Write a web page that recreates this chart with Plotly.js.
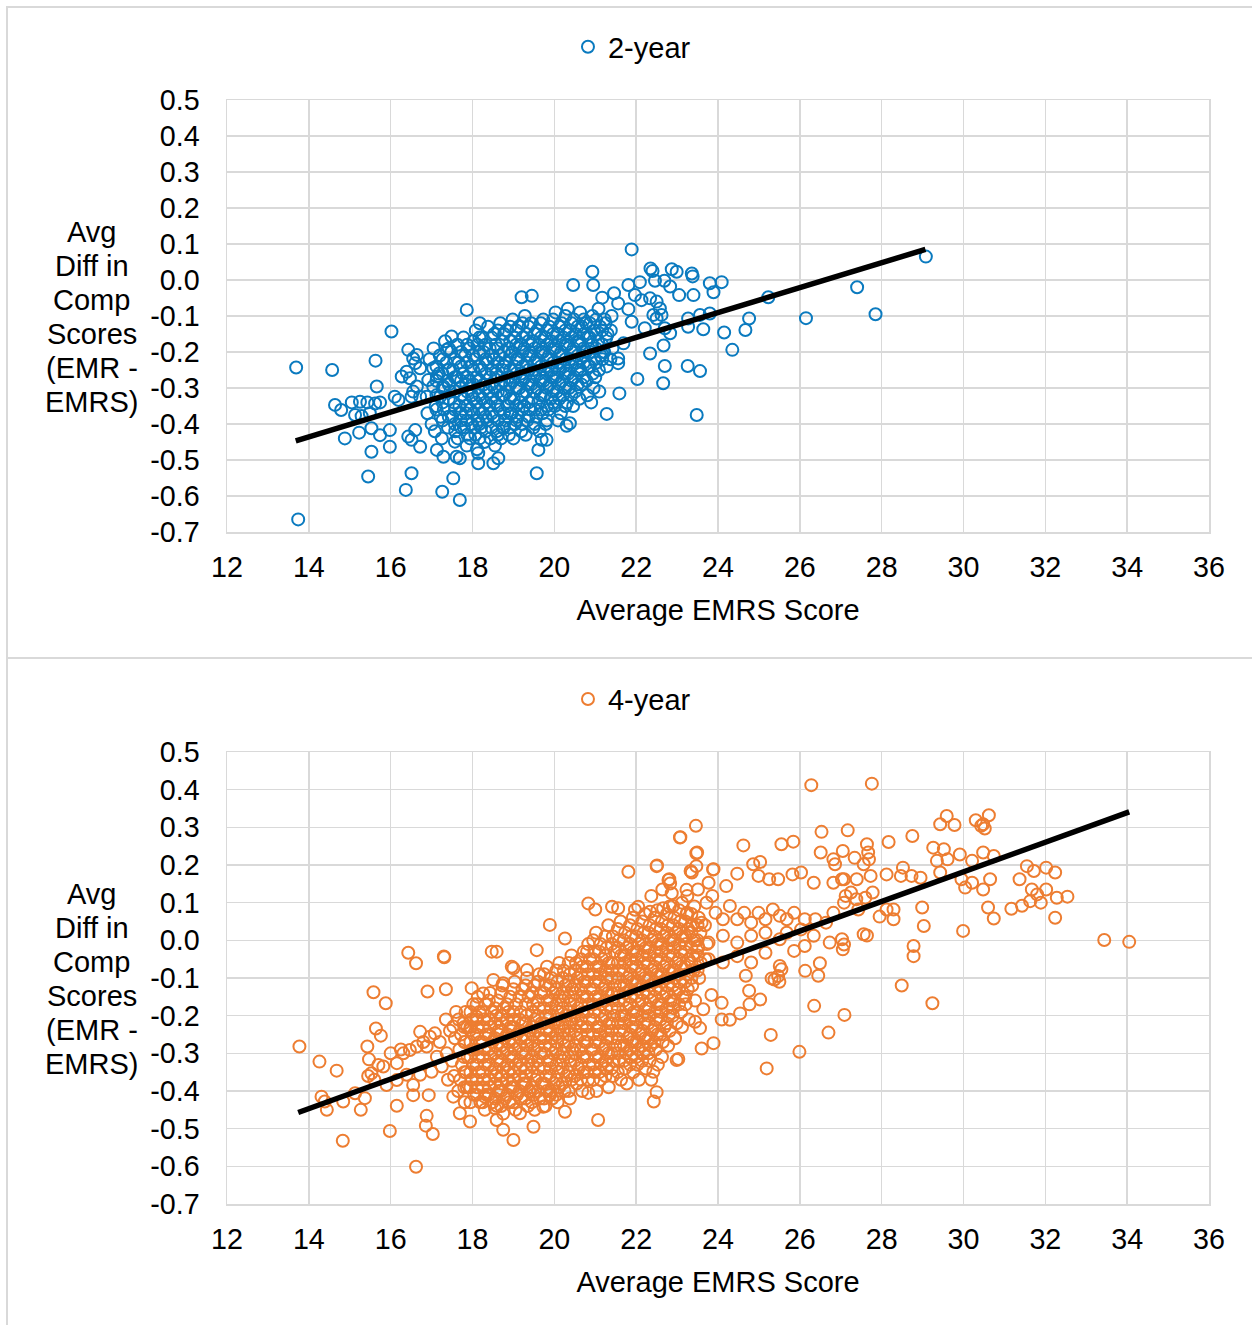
<!DOCTYPE html>
<html><head><meta charset="utf-8">
<script src="https://cdn.plot.ly/plotly-3.0.1.min.js"></script>
<style>
html,body{margin:0;padding:0;background:#fff;width:1252px;height:1325px;overflow:hidden;position:relative}
.frame{position:absolute;border:2px solid #d9d9d9;box-sizing:border-box}
.plot{position:absolute;left:0;width:1252px}
</style></head><body>
<div class="frame" style="left:6px;top:6px;width:1270px;height:653px"></div>
<div class="frame" style="left:6px;top:657px;width:1270px;height:690px"></div>
<div id="p1" class="plot" style="top:0;height:657px"></div>
<div id="p2" class="plot" style="top:657px;height:668px"></div>
<script>
// ---------- DATA ----------
const seriesNames = ["2-year", "4-year"];
const xTickVals = [12,14,16,18,20,22,24,26,28,30,32,34,36];
const yTickVals = [0.5,0.4,0.3,0.2,0.1,0.0,-0.1,-0.2,-0.3,-0.4,-0.5,-0.6,-0.7];
const yTickText = ["0.5","0.4","0.3","0.2","0.1","0.0","-0.1","-0.2","-0.3","-0.4","-0.5","-0.6","-0.7"];
const xTitle = "Average EMRS Score";
const yTitleLines = ["Avg", "Diff in", "Comp", "Scores", "(EMR -", "EMRS)"];

// 2-year: [Average EMRS score, avg diff]
const twoYearOuter = [
[13.69,-0.243],[13.74,-0.665],[14.57,-0.25],[14.64,-0.347],[14.79,-0.361],[15.05,-0.34],[15.25,-0.338],[15.43,-0.34],[15.62,-0.343],[15.74,-0.34],
[15.13,-0.375],[15.29,-0.378],[15.49,-0.37],[14.88,-0.44],[15.23,-0.424],[15.53,-0.412],[15.74,-0.431],[15.98,-0.417],[15.53,-0.477],[15.98,-0.463],
[15.45,-0.546],[15.63,-0.224],[15.66,-0.296],[16.02,-0.143],[16.1,-0.324],[16.19,-0.333],[16.43,-0.194],[16.55,-0.218],[16.6,-0.231],[16.64,-0.208],
[16.39,-0.255],[16.27,-0.268],[16.47,-0.273],[16.72,-0.245],[16.64,-0.296],[16.55,-0.31],[16.51,-0.324],[16.72,-0.324],[16.51,-0.444],[16.43,-0.435],
[16.72,-0.463],[16.6,-0.417],[16.37,-0.583],[16.51,-0.537],[17.04,-0.245],[17.13,-0.268],[16.92,-0.278],[16.88,-0.324],[17.04,-0.296],[17.21,-0.324],
[17.29,-0.296],[17.37,-0.194],[17.49,-0.157],[17.86,-0.083],[18.18,-0.12],[19.2,-0.048],[19.45,-0.044],[20.46,-0.014],[17.13,-0.472],[17.29,-0.491],
[17.57,-0.449],[17.61,-0.491],[17.69,-0.495],[18.14,-0.481],[18.14,-0.509],[18.51,-0.509],[18.63,-0.495],[17.53,-0.551],[17.26,-0.588],[17.69,-0.611],
[19.57,-0.537],[19.69,-0.444],[19.61,-0.472],[19.81,-0.444],[20.38,-0.398],[20.3,-0.405],
[21.89,0.085],[20.93,0.023],[20.95,-0.014],[22.35,0.032],[22.4,0.025],[22.87,0.03],[22.99,0.023],[23.36,0.018],[23.38,0.01],[23.8,-0.009],
[24.09,-0.006],[23.89,-0.034],[21.81,-0.014],[22.09,-0.006],[22.46,-0.002],[22.69,-0.002],[22.83,-0.018],[23.05,-0.042],[23.4,-0.042],[21.17,-0.049],
[21.46,-0.037],[21.56,-0.065],[21.81,-0.081],[21.97,-0.042],[22.13,-0.056],[22.34,-0.051],[22.5,-0.06],[22.58,-0.079],[22.42,-0.097],[22.5,-0.107],
[22.62,-0.097],[22.7,-0.134],[22.83,-0.148],[21.89,-0.116],[22.21,-0.134],[23.27,-0.107],[23.27,-0.13],[23.56,-0.097],[23.8,-0.093],[23.64,-0.137],
[24.15,-0.146],[24.35,-0.194],[24.67,-0.139],[24.76,-0.107],[25.23,-0.048],[26.15,-0.106],[27.4,-0.02],[27.85,-0.095],[29.08,0.065],[22.34,-0.204],
[22.67,-0.182],[22.7,-0.239],[22.66,-0.287],[23.26,-0.239],[23.56,-0.253],[22.03,-0.275],[21.59,-0.315],[21.28,-0.372],[23.48,-0.375],[21.56,-0.218],
[21.56,-0.231],[21.69,-0.176],[21.3,-0.15],[21.4,-0.1],[21.2,-0.2],[21.0,-0.27],[21.1,-0.31],[21.25,-0.12],[20.9,-0.34]
];
const twoYearCore = [
[16.95,-0.22],[16.9,-0.37],[17.0,-0.40],[17.05,-0.19],[17.1,-0.35],[17.08,-0.42],[17.2,-0.21],[17.18,-0.26],[17.22,-0.38],[17.25,-0.44],
[17.33,-0.17],[17.36,-0.23],[17.3,-0.36],[17.4,-0.41],[17.38,-0.28],[17.48,-0.20],[17.52,-0.25],[17.46,-0.31],[17.55,-0.34],[17.5,-0.38],
[17.58,-0.42],[17.63,-0.18],[17.66,-0.23],[17.61,-0.27],[17.7,-0.30],[17.68,-0.35],[17.72,-0.39],[17.64,-0.44],[17.78,-0.16],[17.82,-0.21],
[17.77,-0.26],[17.85,-0.29],[17.8,-0.33],[17.84,-0.37],[17.79,-0.41],[17.86,-0.46],[17.93,-0.19],[17.97,-0.24],[17.92,-0.28],[17.99,-0.32],
[17.95,-0.36],[17.98,-0.40],[17.94,-0.44],[18.08,-0.14],[18.12,-0.18],[18.06,-0.22],[18.1,-0.27],[18.14,-0.30],[18.09,-0.34],[18.13,-0.39],
[18.07,-0.43],[18.11,-0.47],[18.23,-0.16],[18.27,-0.2],[18.22,-0.25],[18.28,-0.29],[18.24,-0.33],[18.26,-0.37],[18.21,-0.41],[18.29,-0.45],
[18.38,-0.13],[18.42,-0.19],[18.37,-0.23],[18.43,-0.27],[18.39,-0.31],[18.41,-0.35],[18.36,-0.39],[18.44,-0.44],[18.53,-0.15],[18.57,-0.18],
[18.52,-0.22],[18.58,-0.26],[18.54,-0.3],[18.56,-0.34],[18.51,-0.38],[18.59,-0.42],[18.55,-0.46],[18.68,-0.12],[18.72,-0.17],[18.67,-0.21],
[18.73,-0.25],[18.69,-0.29],[18.71,-0.32],[18.66,-0.36],[18.74,-0.41],[18.7,-0.44],[18.83,-0.14],[18.87,-0.19],[18.82,-0.23],[18.88,-0.27],
[18.84,-0.31],[18.86,-0.35],[18.81,-0.39],[18.89,-0.43],[18.98,-0.11],[19.02,-0.16],[18.97,-0.2],[19.03,-0.24],[18.99,-0.28],[19.01,-0.33],
[18.96,-0.37],[19.04,-0.4],[19.0,-0.44],[19.13,-0.13],[19.17,-0.18],[19.12,-0.22],[19.18,-0.26],[19.14,-0.3],[19.16,-0.34],[19.11,-0.38],
[19.19,-0.42],[19.28,-0.1],[19.32,-0.15],[19.27,-0.19],[19.33,-0.23],[19.29,-0.27],[19.31,-0.31],[19.26,-0.35],[19.34,-0.39],[19.3,-0.43],
[19.43,-0.12],[19.47,-0.17],[19.42,-0.21],[19.48,-0.25],[19.44,-0.29],[19.46,-0.33],[19.41,-0.36],[19.49,-0.41],[19.58,-0.14],[19.62,-0.18],
[19.57,-0.22],[19.63,-0.26],[19.59,-0.3],[19.61,-0.34],[19.56,-0.38],[19.64,-0.42],[19.73,-0.11],[19.77,-0.16],[19.72,-0.2],[19.78,-0.24],
[19.74,-0.28],[19.76,-0.32],[19.71,-0.37],[19.79,-0.4],[19.88,-0.13],[19.92,-0.17],[19.87,-0.21],[19.93,-0.25],[19.89,-0.29],[19.91,-0.33],
[19.86,-0.36],[20.03,-0.09],[20.07,-0.15],[20.02,-0.19],[20.08,-0.23],[20.04,-0.27],[20.06,-0.31],[20.01,-0.35],[20.09,-0.39],[20.18,-0.12],
[20.22,-0.16],[20.17,-0.2],[20.23,-0.24],[20.19,-0.28],[20.21,-0.32],[20.16,-0.37],[20.33,-0.08],[20.37,-0.14],[20.32,-0.18],[20.38,-0.22],
[20.34,-0.26],[20.36,-0.3],[20.31,-0.34],[20.48,-0.11],[20.52,-0.15],[20.47,-0.19],[20.53,-0.23],[20.49,-0.27],[20.51,-0.31],[20.46,-0.35],
[20.63,-0.09],[20.67,-0.13],[20.62,-0.17],[20.68,-0.21],[20.64,-0.25],[20.66,-0.29],[20.61,-0.33],[20.78,-0.12],[20.82,-0.16],[20.77,-0.2],
[20.83,-0.24],[20.79,-0.28],[20.81,-0.32],[20.93,-0.1],[20.97,-0.14],[20.92,-0.18],[20.98,-0.22],[20.94,-0.26],[20.96,-0.3],[21.08,-0.08],
[21.12,-0.13],[21.07,-0.17],[21.13,-0.21],[21.09,-0.25],[21.23,-0.11],[21.27,-0.16],[21.22,-0.2],[21.28,-0.24],[21.38,-0.14],[21.42,-0.19],
[21.37,-0.22]
];
// extra dense-core columns: [x, y1, y2, ...]
const twoYearCoreCols = [
[17.12,-0.24,-0.28,-0.32,-0.36],[17.27,-0.22,-0.26,-0.3,-0.34,-0.39],[17.42,-0.19,-0.25,-0.29,-0.33,-0.38],
[17.57,-0.22,-0.27,-0.31,-0.36,-0.4],[17.72,-0.2,-0.24,-0.28,-0.32,-0.37,-0.41],[17.87,-0.18,-0.23,-0.27,-0.31,-0.35,-0.39,-0.43],
[18.02,-0.17,-0.21,-0.25,-0.29,-0.33,-0.37,-0.41],[18.17,-0.16,-0.2,-0.24,-0.28,-0.32,-0.36,-0.4,-0.44],[18.32,-0.18,-0.22,-0.26,-0.3,-0.34,-0.38,-0.42],
[18.47,-0.16,-0.21,-0.25,-0.29,-0.33,-0.37,-0.41],[18.62,-0.14,-0.19,-0.23,-0.27,-0.31,-0.35,-0.39,-0.43],[18.77,-0.15,-0.2,-0.24,-0.28,-0.32,-0.37,-0.41],
[18.92,-0.13,-0.17,-0.21,-0.25,-0.29,-0.33,-0.37,-0.41],[19.07,-0.14,-0.18,-0.22,-0.26,-0.3,-0.35,-0.39],[19.22,-0.12,-0.16,-0.2,-0.24,-0.28,-0.32,-0.36,-0.4],
[19.37,-0.13,-0.17,-0.21,-0.25,-0.29,-0.34,-0.38],[19.52,-0.15,-0.19,-0.23,-0.27,-0.31,-0.36,-0.4],[19.67,-0.12,-0.16,-0.2,-0.24,-0.28,-0.32,-0.36],
[19.82,-0.14,-0.18,-0.22,-0.26,-0.3,-0.35,-0.39],[19.97,-0.11,-0.15,-0.19,-0.23,-0.27,-0.31,-0.34],[20.12,-0.13,-0.17,-0.21,-0.25,-0.29,-0.33],
[20.27,-0.1,-0.14,-0.18,-0.22,-0.26,-0.3,-0.35],[20.42,-0.12,-0.16,-0.2,-0.24,-0.28,-0.32],[20.57,-0.13,-0.17,-0.21,-0.25,-0.29],
[20.72,-0.11,-0.15,-0.19,-0.23,-0.27],[20.87,-0.12,-0.16,-0.2,-0.24],[21.02,-0.11,-0.15,-0.19,-0.23],[21.17,-0.14,-0.18,-0.22]
];
const twoYearTrendX = [13.68, 29.07];
const twoYearTrendY = [-0.447, 0.085];

// 4-year
const fourYearOuter = [
[13.77,-0.282],[14.26,-0.322],[14.68,-0.346],[14.31,-0.415],[14.39,-0.428],[14.44,-0.45],[14.84,-0.428],[14.83,-0.532],[15.27,-0.45],[15.13,-0.406],
[15.37,-0.419],[15.43,-0.282],[15.47,-0.316],[15.64,-0.234],[15.76,-0.253],[15.58,-0.138],[15.88,-0.167],[16.43,-0.033],[16.62,-0.061],[17.31,-0.045],
[16.9,-0.136],[17.35,-0.13],[15.98,-0.506],[16.15,-0.439],[16.62,-0.601],[16.88,-0.466],[16.86,-0.492],[17.03,-0.514],[16.55,-0.411],[16.93,-0.411],
[15.53,-0.353],[15.7,-0.331],[15.82,-0.335],[16.15,-0.326],[16.31,-0.3],[16.47,-0.291],[16.64,-0.282],[16.72,-0.243],[16.96,-0.256],[17.08,-0.247],
[16.88,-0.282],[17.13,-0.309],[17.25,-0.335],[17.37,-0.3],[17.0,-0.349],[16.72,-0.357],[16.39,-0.357],[16.15,-0.371],[15.9,-0.384],[16.55,-0.384],
[15.6,-0.37],[15.45,-0.36],[16.0,-0.3],[16.25,-0.29],[16.8,-0.27],[17.2,-0.27],
[17.53,-0.229],[17.78,-0.22],[17.57,-0.26],[17.94,-0.238],[18.1,-0.203],[18.26,-0.141],[18.51,-0.105],[18.47,-0.03],[18.59,-0.03],[17.98,-0.127],
[17.53,-0.415],[17.69,-0.459],[17.94,-0.481],[18.3,-0.415],[18.55,-0.446],[18.59,-0.477],[18.75,-0.503],[19.0,-0.53],[19.16,-0.459],[19.49,-0.495],
[19.4,-0.402],[19.73,-0.442],[19.89,-0.411],[20.26,-0.455],[21.07,-0.477],[20.83,-0.405],[19.57,-0.026],[19.89,0.041],[20.26,0.005],[19.0,-0.074],
[19.33,-0.079],[18.75,-0.114],[18.96,-0.07],[17.3,-0.043],
[23.08,0.274],[23.47,0.231],[22.5,0.197],[21.81,0.182],[23.89,0.189],[23.36,0.18],[23.47,0.197],[22.79,0.16],[22.83,0.151],[22.87,0.125],
[23.23,0.134],[20.83,0.098],[21.0,0.082],[21.41,0.089],[21.56,0.085],[21.97,0.081],[22.05,0.089],[22.34,0.076],[22.66,0.085],[23.46,0.304],
[23.07,0.273],[23.49,0.233],[23.33,0.184],[23.88,0.188],[22.51,0.199],[24.62,0.252],[25.55,0.255],[25.84,0.262],[26.28,0.412],[27.76,0.416],
[26.53,0.288],[27.17,0.292],[28.17,0.261],[28.75,0.277],[26.51,0.233],[26.82,0.215],[27.05,0.237],[27.34,0.219],[27.64,0.255],[27.67,0.233],
[27.69,0.215],[27.56,0.202],[26.86,0.202],[27.08,0.162],[27.39,0.162],[27.73,0.171],[28.12,0.175],[28.52,0.193],[28.47,0.171],[28.73,0.171],
[28.95,0.166],[29.26,0.246],[29.52,0.242],[29.35,0.211],[29.61,0.215],[29.91,0.228],[30.21,0.211],[30.48,0.233],[30.74,0.224],[29.43,0.308],
[29.59,0.33],[29.78,0.306],[30.3,0.319],[30.43,0.304],[30.52,0.297],[30.62,0.332],[30.48,0.308],[29.43,0.18],[29.95,0.162],[30.21,0.153],
[30.48,0.135],[30.65,0.162],[30.04,0.14],[31.55,0.197],[31.72,0.184],[32.02,0.193],[32.24,0.18],[31.37,0.162],[31.67,0.135],[31.8,0.122],
[32.02,0.135],[31.63,0.104],[31.89,0.1],[32.28,0.113],[32.54,0.116],[31.17,0.084],[31.43,0.092],[30.6,0.087],[30.74,0.058],[32.24,0.06],
[28.12,0.082],[28.29,0.082],[28.29,0.056],[28.99,0.087],[29.03,0.038],[29.99,0.025],[27.95,0.063],[27.56,0.016],[27.64,0.013],[27.03,0.003],
[27.08,-0.011],[27.05,-0.024],[28.78,-0.015],[28.78,-0.042],[33.44,0.001],[34.05,-0.004],
[28.49,-0.12],[29.24,-0.167],[26.35,-0.174],[27.09,-0.198],[26.7,-0.245],[25.99,-0.296],[25.29,-0.251],[25.19,-0.34],[26.13,-0.081],[26.45,-0.094],
[26.49,-0.061],[24.68,-0.094],[24.76,-0.134],[24.77,-0.17],[25.03,-0.157],[24.54,-0.194],[24.29,-0.211],[24.09,-0.21],[24.09,-0.166],[23.84,-0.145],
[23.64,-0.183],[23.44,-0.216],[23.56,-0.233],[23.89,-0.273],[23.6,-0.287],[23.03,-0.315],[22.5,-0.403],[22.43,-0.428],[22.42,-0.349],[25.31,-0.101],
[25.5,-0.11],[25.55,-0.077],[25.86,-0.028],[25.51,-0.068],[25.38,-0.104],[25.47,-0.095],[22.99,-0.318]
];
const fourYearMid = [
[24.47,0.177],[24.86,0.202],[25.03,0.208],[24.99,0.171],[25.25,0.162],[25.47,0.162],[25.82,0.175],[26.03,0.18],[26.34,0.153],[26.82,0.153],
[27.03,0.162],[27.25,0.127],[27.12,0.118],[27.38,0.109],[27.6,0.113],[27.78,0.127],[27.43,0.082],[27.08,0.1],[26.82,0.073],[26.64,0.047],
[26.38,0.056],[26.12,0.056],[25.86,0.073],[25.68,0.056],[25.51,0.065],[25.34,0.082],[25.16,0.056],[24.99,0.073],[24.81,0.047],[24.64,0.073],
[24.47,0.056],[24.29,0.091],[24.12,0.056],[23.94,0.073],[23.86,0.118],[24.2,0.144],[23.77,0.153],[23.51,0.135],[23.25,0.118],[22.81,0.162],
[22.64,0.135],[22.37,0.118],[22.9,0.091],[23.25,0.073],[23.6,0.047],[25.68,0.02],[26.03,0.029],[26.34,0.012],[26.73,-0.006],[26.12,-0.015],
[25.51,0.003],[25.16,0.02],[24.81,0.012],[24.47,-0.006],[24.12,0.012],[23.77,-0.006],[23.51,-0.015],[24.47,-0.042],[24.81,-0.059],[24.12,-0.059],
[23.77,-0.05],[25.16,-0.033],[17.45,-0.24],[17.5,-0.32],[17.4,-0.37],[17.55,-0.36],[17.35,-0.21],[17.6,-0.19]
];
const fourYearCore = [
[17.66,-0.21],[17.72,-0.25],[17.68,-0.29],[17.74,-0.33],[17.7,-0.37],[17.65,-0.4],
[17.83,-0.19],[17.87,-0.23],[17.82,-0.27],[17.88,-0.31],[17.84,-0.35],[17.86,-0.39],[17.81,-0.43],
[18.02,-0.17],[17.98,-0.21],[18.03,-0.25],[17.99,-0.29],[18.01,-0.33],[17.97,-0.37],[18.04,-0.41],
[18.13,-0.15],[18.17,-0.19],[18.12,-0.23],[18.18,-0.27],[18.14,-0.31],[18.16,-0.35],[18.11,-0.39],[18.19,-0.43],
[18.32,-0.17],[18.28,-0.21],[18.33,-0.25],[18.29,-0.29],[18.31,-0.33],[18.27,-0.37],[18.34,-0.41],[18.3,-0.45],
[18.43,-0.14],[18.47,-0.19],[18.42,-0.23],[18.48,-0.27],[18.44,-0.31],[18.46,-0.35],[18.41,-0.39],[18.49,-0.43],
[18.62,-0.16],[18.58,-0.2],[18.63,-0.24],[18.59,-0.28],[18.61,-0.32],[18.57,-0.36],[18.64,-0.4],[18.6,-0.44],
[18.73,-0.12],[18.77,-0.18],[18.72,-0.22],[18.78,-0.26],[18.74,-0.3],[18.76,-0.34],[18.71,-0.38],[18.79,-0.42],[18.75,-0.46],
[18.92,-0.15],[18.88,-0.19],[18.93,-0.23],[18.89,-0.27],[18.91,-0.31],[18.87,-0.35],[18.94,-0.39],[18.9,-0.43],
[19.03,-0.11],[19.07,-0.17],[19.02,-0.21],[19.08,-0.25],[19.04,-0.29],[19.06,-0.33],[19.01,-0.37],[19.09,-0.41],[19.05,-0.45],
[19.22,-0.13],[19.18,-0.19],[19.23,-0.22],[19.19,-0.26],[19.21,-0.3],[19.17,-0.34],[19.24,-0.38],[19.2,-0.42],
[19.33,-0.1],[19.37,-0.15],[19.32,-0.2],[19.38,-0.24],[19.34,-0.28],[19.36,-0.32],[19.31,-0.36],[19.39,-0.4],[19.35,-0.44],
[19.52,-0.12],[19.48,-0.17],[19.53,-0.21],[19.49,-0.25],[19.51,-0.29],[19.47,-0.33],[19.54,-0.37],[19.5,-0.41],[19.52,-0.45],
[19.63,-0.09],[19.67,-0.14],[19.62,-0.18],[19.68,-0.22],[19.64,-0.26],[19.66,-0.3],[19.61,-0.34],[19.69,-0.38],[19.65,-0.42],
[19.82,-0.07],[19.78,-0.12],[19.83,-0.16],[19.79,-0.2],[19.81,-0.24],[19.77,-0.28],[19.84,-0.32],[19.8,-0.36],[19.82,-0.4],[19.78,-0.44],
[19.93,-0.1],[19.97,-0.14],[19.92,-0.18],[19.98,-0.22],[19.94,-0.26],[19.96,-0.3],[19.91,-0.34],[19.99,-0.38],[19.95,-0.42],
[20.12,-0.06],[20.08,-0.11],[20.13,-0.15],[20.09,-0.19],[20.11,-0.23],[20.07,-0.27],[20.14,-0.31],[20.1,-0.35],[20.12,-0.39],[20.08,-0.43],
[20.23,-0.08],[20.27,-0.12],[20.22,-0.16],[20.28,-0.2],[20.24,-0.24],[20.26,-0.28],[20.21,-0.32],[20.29,-0.36],[20.25,-0.4],
[20.42,-0.04],[20.38,-0.09],[20.43,-0.13],[20.39,-0.17],[20.41,-0.21],[20.37,-0.25],[20.44,-0.29],[20.4,-0.33],[20.42,-0.37],[20.38,-0.42],
[20.53,-0.06],[20.57,-0.1],[20.52,-0.14],[20.58,-0.18],[20.54,-0.22],[20.56,-0.26],[20.51,-0.3],[20.59,-0.34],[20.55,-0.38],
[20.72,-0.03],[20.68,-0.07],[20.73,-0.11],[20.69,-0.15],[20.71,-0.19],[20.67,-0.23],[20.74,-0.27],[20.7,-0.31],[20.72,-0.35],[20.68,-0.4],
[20.83,-0.01],[20.87,-0.05],[20.82,-0.09],[20.88,-0.13],[20.84,-0.17],[20.86,-0.21],[20.81,-0.25],[20.89,-0.29],[20.85,-0.33],[20.83,-0.37],
[21.02,0.02],[20.98,-0.03],[21.03,-0.07],[20.99,-0.11],[21.01,-0.15],[20.97,-0.19],[21.04,-0.23],[21.0,-0.27],[21.02,-0.31],[20.98,-0.35],[21.03,-0.4],
[21.13,-0.01],[21.17,-0.05],[21.12,-0.09],[21.18,-0.13],[21.14,-0.17],[21.16,-0.21],[21.11,-0.25],[21.19,-0.29],[21.15,-0.33],[21.13,-0.37],
[21.32,0.04],[21.28,-0.02],[21.33,-0.06],[21.29,-0.1],[21.31,-0.14],[21.27,-0.18],[21.34,-0.22],[21.3,-0.26],[21.32,-0.3],[21.28,-0.34],[21.33,-0.39],
[21.43,0.01],[21.47,-0.03],[21.42,-0.08],[21.48,-0.12],[21.44,-0.16],[21.46,-0.2],[21.41,-0.24],[21.49,-0.28],[21.45,-0.32],[21.43,-0.36],
[21.62,0.05],[21.58,0.0],[21.63,-0.04],[21.59,-0.08],[21.61,-0.12],[21.57,-0.16],[21.64,-0.2],[21.6,-0.24],[21.62,-0.28],[21.58,-0.32],[21.63,-0.37],
[21.73,0.02],[21.77,-0.02],[21.72,-0.06],[21.78,-0.1],[21.74,-0.14],[21.76,-0.18],[21.71,-0.22],[21.79,-0.26],[21.75,-0.3],[21.73,-0.34],[21.77,-0.38],
[21.92,0.06],[21.88,0.01],[21.93,-0.03],[21.89,-0.07],[21.91,-0.11],[21.87,-0.15],[21.94,-0.19],[21.9,-0.23],[21.92,-0.27],[21.88,-0.31],[21.93,-0.35],
[22.03,0.03],[22.07,-0.01],[22.02,-0.05],[22.08,-0.09],[22.04,-0.13],[22.06,-0.17],[22.01,-0.21],[22.09,-0.25],[22.05,-0.29],[22.03,-0.33],[22.07,-0.37],
[22.22,0.07],[22.18,0.02],[22.23,-0.02],[22.19,-0.06],[22.21,-0.1],[22.17,-0.14],[22.24,-0.18],[22.2,-0.22],[22.22,-0.26],[22.18,-0.3],[22.23,-0.34],
[22.33,0.04],[22.37,0.0],[22.32,-0.04],[22.38,-0.08],[22.34,-0.12],[22.36,-0.16],[22.31,-0.2],[22.39,-0.24],[22.35,-0.28],[22.33,-0.32],[22.37,-0.37],
[22.52,0.08],[22.48,0.03],[22.53,-0.01],[22.49,-0.05],[22.51,-0.09],[22.47,-0.13],[22.54,-0.17],[22.5,-0.21],[22.52,-0.25],[22.48,-0.29],[22.53,-0.33],
[22.63,0.05],[22.67,0.01],[22.62,-0.03],[22.68,-0.07],[22.64,-0.11],[22.66,-0.15],[22.61,-0.19],[22.69,-0.23],[22.65,-0.27],[22.63,-0.31],
[22.82,0.09],[22.78,0.04],[22.83,0.0],[22.79,-0.04],[22.81,-0.08],[22.77,-0.12],[22.84,-0.16],[22.8,-0.2],[22.82,-0.24],[22.78,-0.28],
[22.93,0.06],[22.97,0.02],[22.92,-0.02],[22.98,-0.06],[22.94,-0.1],[22.96,-0.14],[22.91,-0.18],[22.99,-0.22],[22.95,-0.26],
[23.12,0.1],[23.08,0.05],[23.13,0.01],[23.09,-0.03],[23.11,-0.07],[23.07,-0.11],[23.14,-0.15],[23.1,-0.19],[23.12,-0.23],
[23.23,0.07],[23.27,0.03],[23.22,-0.01],[23.28,-0.05],[23.24,-0.09],[23.26,-0.13],[23.21,-0.17],[23.29,-0.21],
[23.42,0.09],[23.38,0.04],[23.43,0.0],[23.39,-0.04],[23.41,-0.08],[23.37,-0.12],[23.44,-0.16],
[23.53,0.06],[23.57,0.02],[23.52,-0.02],[23.58,-0.06],[23.54,-0.1],
[23.72,0.1],[23.68,0.04],[23.73,-0.01],[23.69,-0.05]
];
// extra dense-core columns: [x, y1, y2, ...]
const fourYearCoreCols = [
[17.8,-0.23,-0.27,-0.31,-0.35,-0.39],[17.95,-0.19,-0.23,-0.27,-0.31,-0.35,-0.39,-0.43],[18.1,-0.17,-0.21,-0.25,-0.29,-0.33,-0.37,-0.41],
[18.25,-0.19,-0.23,-0.27,-0.31,-0.35,-0.39,-0.43],[18.4,-0.16,-0.21,-0.25,-0.29,-0.33,-0.37,-0.41],[18.55,-0.18,-0.22,-0.26,-0.3,-0.34,-0.38,-0.42],
[18.7,-0.14,-0.2,-0.24,-0.28,-0.32,-0.36,-0.4,-0.44],[18.85,-0.17,-0.21,-0.25,-0.29,-0.33,-0.37,-0.41],[19.0,-0.13,-0.19,-0.23,-0.27,-0.31,-0.35,-0.39,-0.43],
[19.15,-0.15,-0.21,-0.24,-0.28,-0.32,-0.36,-0.4],[19.3,-0.12,-0.17,-0.22,-0.26,-0.3,-0.34,-0.38,-0.42],[19.45,-0.14,-0.19,-0.23,-0.27,-0.31,-0.35,-0.39,-0.43],
[19.6,-0.11,-0.16,-0.2,-0.24,-0.28,-0.32,-0.36,-0.4],[19.75,-0.09,-0.14,-0.18,-0.22,-0.26,-0.3,-0.34,-0.38,-0.42],[19.9,-0.12,-0.16,-0.2,-0.24,-0.28,-0.32,-0.36,-0.4],
[20.05,-0.08,-0.13,-0.17,-0.21,-0.25,-0.29,-0.33,-0.37,-0.41],[20.2,-0.1,-0.14,-0.18,-0.22,-0.26,-0.3,-0.34,-0.38],[20.35,-0.06,-0.11,-0.15,-0.19,-0.23,-0.27,-0.31,-0.35,-0.4],
[20.5,-0.08,-0.12,-0.16,-0.2,-0.24,-0.28,-0.32,-0.36],[20.65,-0.05,-0.09,-0.13,-0.17,-0.21,-0.25,-0.29,-0.33,-0.37],[20.8,-0.03,-0.07,-0.11,-0.15,-0.19,-0.23,-0.27,-0.31,-0.35],
[20.95,0.0,-0.05,-0.09,-0.13,-0.17,-0.21,-0.25,-0.29,-0.33,-0.37],[21.1,-0.03,-0.07,-0.11,-0.15,-0.19,-0.23,-0.27,-0.31,-0.35],[21.25,0.01,-0.04,-0.08,-0.12,-0.16,-0.2,-0.24,-0.28,-0.32,-0.36],
[21.4,-0.01,-0.06,-0.1,-0.14,-0.18,-0.22,-0.26,-0.3,-0.34],[21.55,0.03,-0.02,-0.06,-0.1,-0.14,-0.18,-0.22,-0.26,-0.3,-0.35],[21.7,0.0,-0.04,-0.08,-0.12,-0.16,-0.2,-0.24,-0.28,-0.32],
[21.85,0.04,-0.01,-0.05,-0.09,-0.13,-0.17,-0.21,-0.25,-0.29,-0.33],[22.0,0.01,-0.03,-0.07,-0.11,-0.15,-0.19,-0.23,-0.27,-0.31],[22.15,0.05,0.0,-0.04,-0.08,-0.12,-0.16,-0.2,-0.24,-0.28,-0.32],
[22.3,0.02,-0.02,-0.06,-0.1,-0.14,-0.18,-0.22,-0.26,-0.3],[22.45,0.06,0.01,-0.03,-0.07,-0.11,-0.15,-0.19,-0.23,-0.27],[22.6,0.03,-0.01,-0.05,-0.09,-0.13,-0.17,-0.21,-0.25],
[22.75,0.07,0.02,-0.02,-0.06,-0.1,-0.14,-0.18,-0.22],[22.9,0.04,0.0,-0.04,-0.08,-0.12,-0.16,-0.2],[23.05,0.08,0.03,-0.01,-0.05,-0.09,-0.13,-0.17],
[23.2,0.05,0.01,-0.03,-0.07,-0.11,-0.15],[23.35,0.07,0.02,-0.02,-0.06,-0.1],[23.5,0.04,0.0,-0.04,-0.08]
];
const fourYearTrendX = [13.74, 34.05];
const fourYearTrendY = [-0.457, 0.341];

const seriesColors = ["#0a7abf", "#ed7d31"];

// ---------- DRAW ----------
const FONT = "Liberation Sans, Arial, sans-serif";
function expandCols(cols) {
  const out = [];
  cols.forEach(c => { for (let i = 1; i < c.length; i++) out.push([c[0], c[i]]); });
  return out;
}
function makePlot(div, name, color, pts, trX, trY, heightPx, marginT, marginB, legendY, titleCenterPx) {
  const xs = pts.map(p => p[0]), ys = pts.map(p => p[1]);
  const plotH = heightPx - marginT - marginB;
  const traces = [
    {type:"scatter", mode:"markers", name:name, x:xs, y:ys,
     marker:{symbol:"circle-open", size:12, color:color, line:{width:2, color:color}},
     showlegend:true, hoverinfo:"skip"},
    {type:"scatter", mode:"lines", x:trX, y:trY, line:{color:"#000", width:5.5},
     showlegend:false, hoverinfo:"skip"}
  ];
  const axFont = {family:FONT, size:29, color:"#000"};
  const tickFont = {family:FONT, size:28.7, color:"#000"};
  const lineGap = 34;
  const n = yTitleLines.length;
  const anns = yTitleLines.map((t, i) => ({
    text:t, xref:"paper", yref:"paper", x:-0.1375,
    y:titleCenterPx + ((n - 1) / 2 - i) * lineGap / plotH,
    xanchor:"center", yanchor:"middle", showarrow:false, font:axFont
  }));
  const layout = {
    width:1252, height:heightPx,
    margin:{l:227, r:43, t:marginT, b:marginB, pad:0},
    paper_bgcolor:"rgba(0,0,0,0)", plot_bgcolor:"rgba(0,0,0,0)",
    font:axFont,
    showlegend:true,
    legend:{orientation:"h", x:0.4124, xanchor:"center", y:legendY, yanchor:"middle",
            font:axFont, itemwidth:30, bgcolor:"rgba(0,0,0,0)"},
    xaxis:{range:[12,36], tickvals:xTickVals, ticktext:xTickVals.map(String),
           showgrid:true, gridcolor:"#d9d9d9", gridwidth:1.5, zeroline:false,
           showline:true, linecolor:"#d9d9d9", linewidth:1.5, mirror:true,
           ticks:"", ticklabelstandoff:9, tickfont:tickFont,
           title:{text:xTitle, font:axFont, standoff:18}},
    yaxis:{range:[-0.7,0.5], tickvals:yTickVals, ticktext:yTickText,
           showgrid:true, gridcolor:"#d9d9d9", gridwidth:1.5, zeroline:false,
           showline:true, linecolor:"#d9d9d9", linewidth:1.5, mirror:true,
           ticks:"", ticklabelstandoff:20, tickfont:tickFont},
    annotations:anns
  };
  Plotly.newPlot(div, traces, layout, {displayModeBar:false, staticPlot:true});
}
makePlot("p1", seriesNames[0], seriesColors[0],
         twoYearOuter.concat(twoYearCore, expandCols(twoYearCoreCols)),
         twoYearTrendX, twoYearTrendY, 657, 100, 125, 1.123, 0.4977);
makePlot("p2", seriesNames[1], seriesColors[1],
         fourYearOuter.concat(fourYearMid, fourYearCore, expandCols(fourYearCoreCols)),
         fourYearTrendX, fourYearTrendY, 668, 95, 121, 1.117, 0.4967);
</script>
</body></html>
